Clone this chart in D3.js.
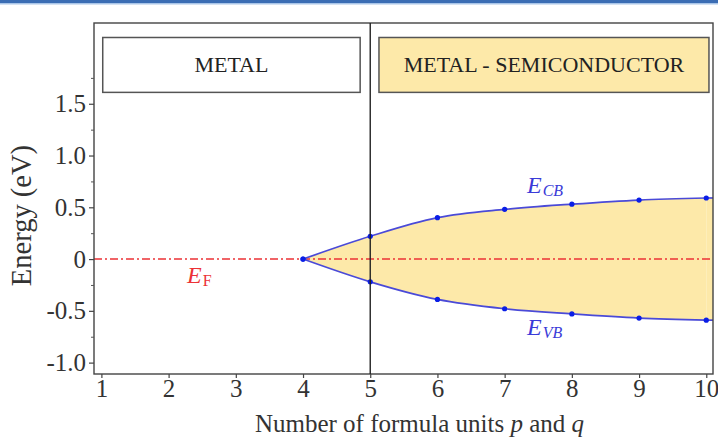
<!DOCTYPE html>
<html>
<head>
<meta charset="utf-8">
<script src="https://cdn.jsdelivr.net/npm/d3@7"></script>
<style>
  body { margin: 0; background: #fff; }
  svg { display: block; font-family: "Liberation Serif", "Times New Roman", serif; }
</style>
</head>
<body>
<script>
// Data
var units = [4, 5, 6, 7, 8, 9, 10];
var conduction = [0, 0.22, 0.40, 0.48, 0.53, 0.57, 0.59];
var valence = [0, -0.22, -0.39, -0.48, -0.53, -0.57, -0.59];
var xTicks = [1, 2, 3, 4, 5, 6, 7, 8, 9, 10];
var yTicks = [1.5, 1.0, 0.5, 0, -0.5, -1.0];
var yTickLabels = ["1.5", "1.0", "0.5", "0", "-0.5", "-1.0"];
var yMinor = [1.75, 1.25, 0.75, 0.25, -0.25, -0.75];
var boundary = 5;
var regions = [
  {label: "METAL", x0: 1.02, x1: 4.85, y0: 1.61, y1: 2.14, fill: "#ffffff"},
  {label: "METAL - SEMICONDUCTOR", x0: 5.13, x1: 10.04, y0: 1.61, y1: 2.14, fill: "#fde9a9"}
];

var width = 718, height = 438;
var plotLeft = 94, plotRight = 713, plotTop = 23, plotBottom = 374;

// Skalaer
var x = d3.scaleLinear().domain([0.89, 10.1]).range([plotLeft, plotRight]);
var y = d3.scaleLinear().domain([-1.11, 2.28]).range([plotBottom, plotTop]);

var svg = d3.select("body").append("svg").attr("width", width).attr("height", height);

// header bar
svg.append("rect").attr("x", 0).attr("y", 0).attr("width", width).attr("height", 3).attr("fill", "#3b6db4");
svg.append("rect").attr("x", 0).attr("y", 3).attr("width", width).attr("height", 1.5).attr("fill", "#a9c5e8");

var pts = units.map(function(u, i) { return {u: u, cb: conduction[i], vb: valence[i]}; });
var last = pts[pts.length - 1];

// gap area
svg.append("path")
  .datum(pts)
  .attr("fill", "#fde9a9")
  .attr("d", d3.area()
    .x(function(d) { return x(d.u); })
    .y0(function(d) { return y(d.vb); })
    .y1(function(d) { return y(d.cb); })
    .curve(d3.curveMonotoneX));
svg.append("rect")
  .attr("x", x(last.u)).attr("width", plotRight - x(last.u))
  .attr("y", y(last.cb)).attr("height", y(last.vb) - y(last.cb))
  .attr("fill", "#fde9a9");

// Fermi level
svg.append("line")
  .attr("x1", plotLeft).attr("x2", plotRight).attr("y1", y(0)).attr("y2", y(0))
  .attr("stroke", "#ec3236").attr("stroke-width", 1.5)
  .attr("stroke-dasharray", "8,3,2,3");

// band edges
["cb", "vb"].forEach(function(k) {
  svg.append("path")
    .datum(pts)
    .attr("fill", "none")
    .attr("stroke", "#4a4ad8")
    .attr("stroke-width", 1.7)
    .attr("d", d3.line()
      .x(function(d) { return x(d.u); })
      .y(function(d) { return y(d[k]); })
      .curve(d3.curveMonotoneX));
  svg.append("line")
    .attr("x1", x(last.u)).attr("x2", plotRight)
    .attr("y1", y(last[k])).attr("y2", y(last[k]))
    .attr("stroke", "#4a4ad8").attr("stroke-width", 1.7);
  svg.selectAll(".dot-" + k)
    .data(pts)
    .enter()
    .append("circle")
    .attr("cx", function(d) { return x(d.u); })
    .attr("cy", function(d) { return y(d[k]); })
    .attr("r", 2.6)
    .attr("fill", "#0a1ee6");
});

// region boxes
regions.forEach(function(r) {
  svg.append("rect")
    .attr("x", x(r.x0)).attr("y", y(r.y1))
    .attr("width", x(r.x1) - x(r.x0)).attr("height", y(r.y0) - y(r.y1))
    .attr("fill", r.fill).attr("stroke", "#555").attr("stroke-width", 1.5);
  svg.append("text")
    .attr("x", (x(r.x0) + x(r.x1)) / 2)
    .attr("y", (y(r.y0) + y(r.y1)) / 2 + 7.5)
    .attr("text-anchor", "middle")
    .attr("font-size", 22)
    .attr("fill", "#222")
    .text(r.label);
});

// frame + boundary
svg.append("rect")
  .attr("x", plotLeft).attr("y", plotTop).attr("width", plotRight - plotLeft).attr("height", plotBottom - plotTop)
  .attr("fill", "none").attr("stroke", "#444").attr("stroke-width", 1.4);
svg.append("line")
  .attr("x1", x(boundary)).attr("x2", x(boundary)).attr("y1", plotTop).attr("y2", plotBottom)
  .attr("stroke", "#222").attr("stroke-width", 1.4);

// Aksen
var yAxis = d3.axisLeft(y).tickValues(yTicks).tickSize(5).tickSizeOuter(0)
  .tickFormat(function(d, i) { return yTickLabels[i]; });
var gy = svg.append("g").attr("transform", "translate(" + plotLeft + ",0)").call(yAxis);
gy.select(".domain").remove();
gy.selectAll("line").attr("stroke", "#444").attr("stroke-width", 1.2);
gy.selectAll("text").attr("font-size", 25).attr("fill", "#333").attr("font-family", "Liberation Serif").attr("x", -8);

var gm = svg.append("g").attr("transform", "translate(" + plotLeft + ",0)")
  .call(d3.axisLeft(y).tickValues(yMinor).tickSize(3).tickFormat(""));
gm.select(".domain").remove();
gm.selectAll("line").attr("stroke", "#555").attr("stroke-width", 1);

var xAxis = d3.axisBottom(x).tickValues(xTicks).tickSize(4).tickSizeOuter(0);
var gx = svg.append("g").attr("transform", "translate(0," + plotBottom + ")").call(xAxis);
gx.select(".domain").remove();
gx.selectAll("line").attr("stroke", "#444").attr("stroke-width", 1.2);
gx.selectAll("text").attr("font-size", 25).attr("fill", "#333").attr("font-family", "Liberation Serif").attr("y", 5);

// titles
svg.append("text")
  .attr("transform", "translate(31," + (y(0.42)) + ") rotate(-90)")
  .attr("text-anchor", "middle")
  .attr("font-size", 28.5).attr("fill", "#333")
  .text("Energy (eV)");

var xt = svg.append("text")
  .attr("x", (plotLeft + plotRight) / 2 + 16).attr("y", 432)
  .attr("text-anchor", "middle")
  .attr("font-size", 25).attr("fill", "#333");
xt.append("tspan").text("Number of formula units ");
xt.append("tspan").attr("font-style", "italic").text("p");
xt.append("tspan").text(" and ");
xt.append("tspan").attr("font-style", "italic").text("q");

// band labels
function bandLabel(px, py, sub, color, subItalic) {
  var t = svg.append("text").attr("x", px).attr("y", py).attr("fill", color);
  t.append("tspan").attr("font-style", "italic").attr("font-size", 24).text("E");
  t.append("tspan").attr("font-style", subItalic ? "italic" : "normal").attr("font-size", 16)
    .attr("dy", 3).attr("dx", 1).text(sub);
}
bandLabel(527, 193, "CB", "#3b3bd8", true);
bandLabel(527, 335, "VB", "#3b3bd8", true);
bandLabel(187, 283, "F", "#ec3236", false);
</script>
</body>
</html>
